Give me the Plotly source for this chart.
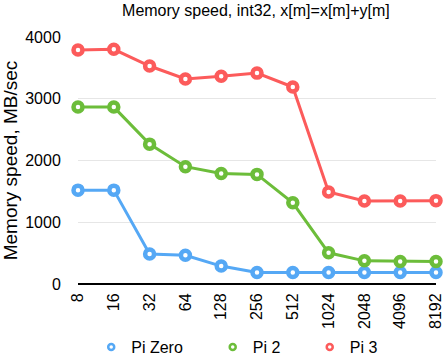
import plotly.graph_objects as go

sizes = ["8", "16", "32", "64", "128", "256", "512", "1024", "2048", "4096", "8192"]
pi_zero = [1520, 1520, 485, 465, 290, 185, 185, 185, 185, 185, 185]
pi_2 = [2865, 2865, 2265, 1900, 1790, 1775, 1315, 505, 375, 365, 365]
pi_3 = [3790, 3800, 3530, 3320, 3365, 3415, 3190, 1490, 1345, 1345, 1350]

names = ["Pi Zero", "Pi 2", "Pi 3"]
colors = ["#55a8f5", "#6cbd3a", "#fc5b5b"]
legend_ids = ["legend", "legend2", "legend3"]
legend_x = [0.205, 0.478, 0.696]

fig = go.Figure()
for name, vals, col in zip(names, [pi_zero, pi_2, pi_3], colors):
    fig.add_trace(go.Scatter(
        x=sizes, y=vals, name=name, mode="lines+markers",
        line=dict(color=col, width=3),
        marker=dict(symbol="circle", size=9, color="white", line=dict(color=col, width=4.5)),
        cliponaxis=False, showlegend=False,
    ))
# legend entries (marker only, as in the reference legend)
for name, col, lid in zip(names, colors, legend_ids):
    fig.add_trace(go.Scatter(
        x=[None], y=[None], name=name, mode="markers",
        marker=dict(symbol="circle", size=6, color="white", line=dict(color=col, width=2.5)),
        legend=lid, showlegend=True,
    ))

font = "Liberation Sans, Arial, Helvetica, sans-serif"
legends = {}
for lid, lx in zip(legend_ids, legend_x):
    legends[lid] = dict(orientation="h", xref="container", x=lx, xanchor="left",
                        yref="container", y=0.028, yanchor="middle",
                        font=dict(size=16), itemwidth=30, bgcolor="rgba(0,0,0,0)")

fig.update_layout(
    width=445, height=357,
    margin=dict(l=78, r=9, t=37, b=73, autoexpand=False),
    paper_bgcolor="white", plot_bgcolor="white",
    font=dict(family=font, size=16, color="black"),
    title=dict(text="Memory speed, int32, x[m]=x[m]+y[m]", x=0.575, xanchor="center",
               y=0.972, yanchor="middle", font=dict(size=16)),
    showlegend=True,
    xaxis=dict(type="category", range=[0, 10], showgrid=False, tickangle=-90,
               showline=False, ticks="outside", ticklen=2, tickcolor="rgba(0,0,0,0)",
               zeroline=False),
    yaxis=dict(range=[0, 4000], tickvals=[0, 1000, 2000, 3000, 4000], showgrid=True,
               gridcolor="#e6e6e6", gridwidth=1, zeroline=True, zerolinecolor="black",
               zerolinewidth=1.5, ticks="outside", ticklen=13, tickcolor="rgba(0,0,0,0)",
               title=dict(text="Memory speed, MB/sec", standoff=6, font=dict(size=19))),
    **legends,
)
fig.write_html("out.html", config={"displayModeBar": False},
               post_script="document.body.style.margin='0';")
